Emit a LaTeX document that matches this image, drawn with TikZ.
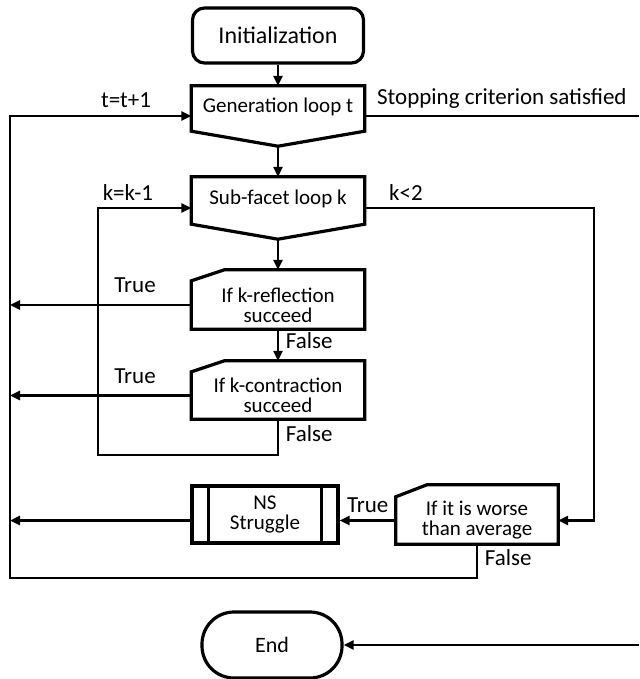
\documentclass[tikz,border=0pt]{standalone}
\usepackage{fontspec}
\setmainfont{Carlito}
\usetikzlibrary{arrows.meta}

\begin{document}
\begin{tikzpicture}[x=0.5pt,y=-0.5pt,->,>={Triangle[length=5pt,width=4.5pt]},
                    line width=1.2pt,font=\fontsize{11.5}{13}\selectfont,
                    block/.style={line width=1.6pt},
                    loopbox/.style={minimum width=85.5pt,text height=7pt,text depth=10pt,
                                    font=\fontsize{10.5}{12}\selectfont},
                    ask/.style={minimum width=85.5pt,inner sep=0pt,align=center,
                                font=\fontsize{10.5}{10}\selectfont}]
  \useasboundingbox (0,0) rectangle (639,679);

  \node[draw,block,rounded corners=6pt,minimum width=85.5pt,minimum height=27.5pt,
        font=\fontsize{12}{14}\selectfont] (init) at (278,35.5) {Initialization};
  \node[loopbox,minimum height=29pt] (gen)   at (278,116)    {Generation loop t};
  \node[loopbox,minimum height=30pt] (sub)   at (278,208)    {Sub-facet loop k};
  \node[ask,minimum height=23pt]     (refl)  at (278,305)    {If k-reflection\\succeed};
  \node[ask,minimum height=22.5pt]   (contr) at (278,395.5)  {If k-contraction\\succeed};
  \node[ask,minimum width=80pt,minimum height=22.5pt] (worse) at (477,520.5) {If it is worse\\than average};
  \node[draw,block,minimum width=73pt,minimum height=28.5pt,align=center,
        font=\fontsize{10.5}{10}\selectfont] (ns) at (265,514.5) {NS\\Struggle};
  \node[draw,block,rounded corners=16pt,minimum width=70pt,minimum height=33pt,
        font=\fontsize{11}{13}\selectfont] (end) at (272,645) {End};

  % outlines of the loop limits, the decisions and the process bars
  \foreach \n in {gen,sub}
    \draw[-,block] (\n.north west) -- (\n.north east) -- ([yshift=7.5pt]\n.south east)
                   -- (\n.south) -- ([yshift=7.5pt]\n.south west) -- cycle;
  \foreach \n/\c/\h in {refl/16.5pt/5.5pt,contr/16.5pt/5.5pt,worse/15.5pt/6pt}
    \draw[-,block] (\n.south west) -- (\n.north west) -- ([xshift=\c,yshift=\h]\n.north west)
                   -- ([yshift=\h]\n.north east) -- (\n.south east) -- cycle;
  \draw[-,block] ([xshift=9pt]ns.north west) -- ([xshift=9pt]ns.south west)
                 ([xshift=-9pt]ns.north east) -- ([xshift=-9pt]ns.south east);

  \coordinate (tcorner) at (10,578);
  \coordinate (kcorner) at (98,455);
  \coordinate (stop)    at (639,116);
  \coordinate (endin)   at (639,645);

  \path (init)  edge (gen)
        (gen)   edge (sub)
        (sub)   edge ([yshift=5.5pt]refl.north)
        (refl)  edge node[right,pos=.35] {False} ([yshift=5.5pt]contr.north)
                edge node[above=2pt,pos=.31] {True} (refl -| tcorner)
        (contr) edge node[above=2pt,pos=.31] {True} (contr -| tcorner)
        (worse) edge node[above] {True} (worse -| ns.east)
        (ns.west |- worse) edge (worse -| tcorner)
        (endin) edge (end);

  \draw[-] (gen) -- node[above] {Stopping criterion satisfied} (stop);
  \draw (sub) -| node[above,pos=.09] {k<2} ([xshift=18pt]worse.east) -- (worse);
  \draw (contr) |- node[right,pos=.2] {False} (kcorner) |- node[above,pos=.66] {k=k-1} (sub);
  \draw (worse) |- node[right,pos=.2] {False} (tcorner) |- node[above,pos=.82] {t=t+1} (gen);
\end{tikzpicture}
\end{document}
